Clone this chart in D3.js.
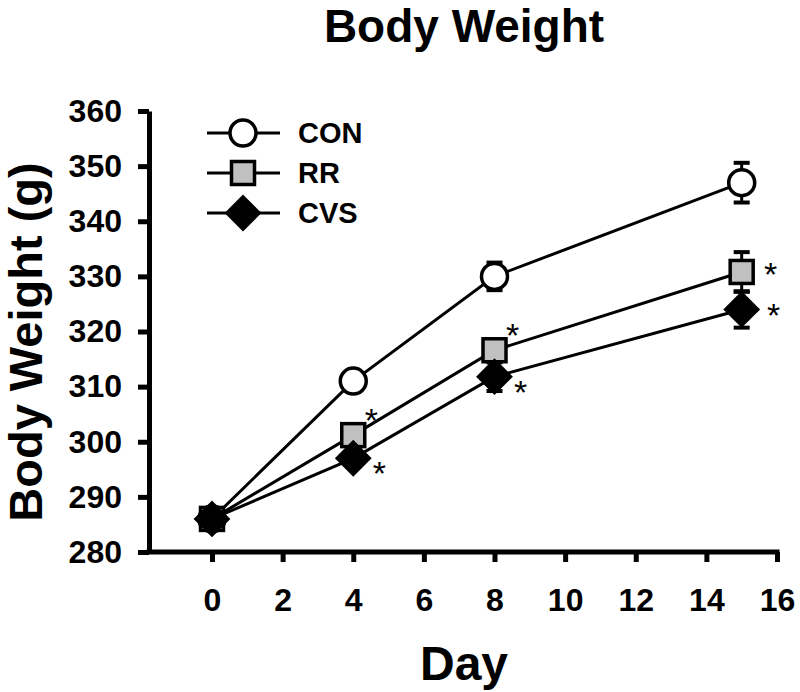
<!DOCTYPE html>
<html>
<head>
<meta charset="utf-8">
<script src="https://cdn.jsdelivr.net/npm/d3@7/dist/d3.min.js"></script>
<style>
  html, body { margin: 0; padding: 0; background: #fff; }
  svg { display: block; font-family: "Liberation Sans", Arial, Helvetica, sans-serif; }
</style>
</head>
<body>
<svg id="chart" width="800" height="692"></svg>
<script>
// ---- data ----
const days = [0, 4, 8, 15];
const seriesNames = ["CON", "RR", "CVS"];
const conMean = [286, 311, 330, 347];
const conErr  = [1.2, 1.5, 2.5, 3.6];
const rrMean  = [286, 301.2, 316.6, 330.8];
const rrErr   = [1.2, 1.5, 2.0, 3.6];
const cvsMean = [286, 297, 311.8, 324];
const cvsErr  = [1.2, 1.5, 2.6, 3.3];
const xTicks = [0, 2, 4, 6, 8, 10, 12, 14, 16];
const yTicks = [280, 290, 300, 310, 320, 330, 340, 350, 360];
// significance markers: series, day index, placement
const sigSeries = ["RR", "CVS", "RR", "CVS", "RR", "CVS"];
const sigDayIdx = [1, 1, 2, 2, 3, 3];
const sigPlace  = ["upper", "lower", "upper", "lower", "rightUpper", "rightLower"];

const series = [
  { name: "CON", mean: conMean, err: conErr, shape: "circle",  fill: "#ffffff" },
  { name: "RR",  mean: rrMean,  err: rrErr,  shape: "square",  fill: "#c0c0c0" },
  { name: "CVS", mean: cvsMean, err: cvsErr, shape: "diamond", fill: "#000000" }
];

const svg = d3.select("#chart");
const x = d3.scaleLinear().domain([0, 16]).range([212, 777]);
const y = d3.scaleLinear().domain([280, 360]).range([552, 111]);
const yAxisX = 149;

// title
svg.append("text").attr("x", 464).attr("y", 42).attr("text-anchor", "middle")
  .attr("font-size", 46).attr("font-weight", "bold").text("Body Weight");

// y axis
const yAxis = svg.append("g").attr("transform", `translate(${yAxisX},0)`)
  .call(d3.axisLeft(y).tickValues(yTicks).tickSize(11).tickSizeOuter(0).tickPadding(16));
yAxis.select(".domain").attr("stroke-width", 5).attr("stroke", "#000");
yAxis.selectAll(".tick line").attr("stroke-width", 5).attr("stroke", "#000");
yAxis.selectAll(".tick text").attr("font-size", 32).attr("font-weight", "bold")
  .attr("font-family", "Liberation Sans, Arial, sans-serif").attr("fill", "#000");

// x axis
const xAxis = svg.append("g").attr("transform", `translate(0,${y(280)})`)
  .call(d3.axisBottom(x).tickValues(xTicks).tickSize(10).tickSizeOuter(0).tickPadding(26));
xAxis.select(".domain").remove();
xAxis.append("line").attr("x1", yAxisX - 2.5).attr("x2", x(16) + 2.5).attr("y1", 0).attr("y2", 0)
  .attr("stroke", "#000").attr("stroke-width", 5);
xAxis.selectAll(".tick line").attr("stroke-width", 5).attr("stroke", "#000");
xAxis.selectAll(".tick text").attr("font-size", 32).attr("font-weight", "bold")
  .attr("font-family", "Liberation Sans, Arial, sans-serif").attr("fill", "#000");

// axis labels
svg.append("text").attr("x", 464).attr("y", 680).attr("text-anchor", "middle")
  .attr("font-size", 48).attr("font-weight", "bold").text("Day");
svg.append("text").attr("transform", "translate(42,342) rotate(-90)").attr("text-anchor", "middle")
  .attr("font-size", 47).attr("font-weight", "bold").text("Body Weight (g)");

// marker drawing
function drawMarker(g, shape, fill, cx, cy) {
  if (shape === "circle") {
    g.append("circle").attr("cx", cx).attr("cy", cy).attr("r", 13)
      .attr("fill", fill).attr("stroke", "#000").attr("stroke-width", 3.5);
  } else if (shape === "square") {
    g.append("rect").attr("x", cx - 11.5).attr("y", cy - 11.5).attr("width", 23).attr("height", 23)
      .attr("fill", fill).attr("stroke", "#000").attr("stroke-width", 3.5);
  } else {
    const s = 17;
    g.append("path").attr("d", `M${cx},${cy - s}L${cx + s},${cy}L${cx},${cy + s}L${cx - s},${cy}Z`)
      .attr("fill", fill).attr("stroke", "#000").attr("stroke-width", 2);
  }
}

const line = d3.line().x(d => x(d[0])).y(d => y(d[1]));
// lines
series.forEach(s => {
  svg.append("path").datum(days.map((d, i) => [d, s.mean[i]]))
    .attr("d", line).attr("fill", "none").attr("stroke", "#000").attr("stroke-width", 3);
});
// error bars + markers
series.forEach(s => {
  const g = svg.append("g");
  days.forEach((d, i) => {
    const cx = x(d), top = y(s.mean[i] + s.err[i]), bot = y(s.mean[i] - s.err[i]);
    g.append("line").attr("x1", cx).attr("x2", cx).attr("y1", top).attr("y2", bot)
      .attr("stroke", "#000").attr("stroke-width", 3);
    [top, bot].forEach(yy => g.append("line").attr("x1", cx - 8).attr("x2", cx + 8)
      .attr("y1", yy).attr("y2", yy).attr("stroke", "#000").attr("stroke-width", 4));
  });
  days.forEach((d, i) => drawMarker(g, s.shape, s.fill, x(d), y(s.mean[i])));
});

// significance asterisks
const placeOffset = { upper: [18, -22], lower: [26, 8], rightUpper: [29, -5], rightLower: [32, -1] };
sigSeries.forEach((name, k) => {
  const s = series.find(q => q.name === name);
  const i = sigDayIdx[k];
  const off = placeOffset[sigPlace[k]];
  svg.append("text").attr("x", x(days[i]) + off[0]).attr("y", y(s.mean[i]) + off[1] + 19)
    .attr("text-anchor", "middle").attr("font-size", 34).text("*");
});

// legend
const legendY = [133, 173, 213];
series.forEach((s, k) => {
  const g = svg.append("g");
  g.append("line").attr("x1", 207).attr("x2", 280).attr("y1", legendY[k]).attr("y2", legendY[k])
    .attr("stroke", "#000").attr("stroke-width", 3);
  drawMarker(g, s.shape, s.fill, 243, legendY[k]);
  g.append("text").attr("x", 298).attr("y", legendY[k]).attr("dy", "0.36em")
    .attr("font-size", 29).attr("font-weight", "bold").text(seriesNames[k]);
});
</script>
</body>
</html>
